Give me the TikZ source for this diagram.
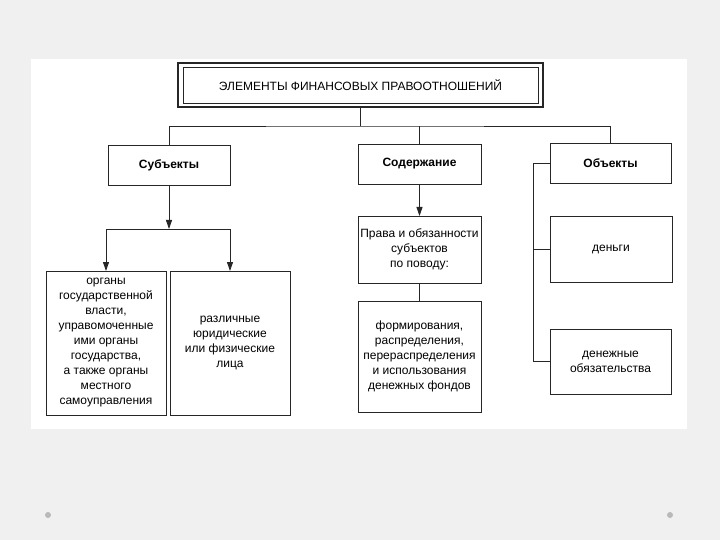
\documentclass[tikz,border=0pt]{standalone}
\usepackage{fontspec}
\setmainfont{Liberation Sans}
\usepackage{tikz}
\usetikzlibrary{arrows,arrows.meta,positioning,fit}

\begin{document}
\begin{tikzpicture}[x=1pt, y=-1pt, >={Triangle[length=9pt,width=6pt]},
    every fit/.style={inner sep=0pt, outer sep=0pt, draw=black!85, line width=0.9pt},
    every label/.style={align=center, font=\fontsize{12}{15}\selectfont},
    head/.style={label={[font=\fontsize{12}{15}\selectfont\bfseries]center:{#1}}},
    link/.style={draw=black!85, line width=0.9pt}]
  % slide
  \useasboundingbox (0,0) rectangle (720,540);
  \fill[gray!12] (0,0) rectangle (720,540);
  \fill[white] (31,59) rectangle (687,429);
  \fill[gray!55] (48,515) circle (3) (670,515) circle (3);
  \begin{scope}
    % title
    \node (title) [fit={(178,63) (543,107)}, line width=2.2pt] {};
    \node (titlein) [fit={(183,67) (538,103)}, line width=0.7pt,
      label={[font=\fontsize{12}{15}\selectfont]center:{ЭЛЕМЕНТЫ ФИНАНСОВЫХ ПРАВООТНОШЕНИЙ}}] {};
    % second level
    \node (subj) [fit={(108,145) (230,185)}, head={Субъекты}] {};
    \node (cont) [fit={(358,144) (481,184)}, head={Содержание}] {};
    \node (obj)  [fit={(550,143) (671,183)}, head={Объекты}] {};
    % subjects
    \node (organs) [fit={(46,271) (166,415)}, label=center:{органы\\государственной\\власти,\\управомоченные\\ими органы\\государства,\\а также органы\\местного\\самоуправления}] {};
    \node (persons) [fit={(170,271) (290,415)}, label=center:{различные\\юридические\\или физические\\лица}] {};
    % content
    \node (rights) [fit={(358,216) (481,283)}, label=center:{Права и обязанности\\субъектов\\по поводу:}] {};
    \node (funds) [fit={(358,301) (481,412)}, label=center:{формирования,\\распределения,\\перераспределения\\и использования\\денежных фондов}] {};
    % objects
    \node (money) [fit={(550,216) (672,282)}, label=center:{деньги}] {};
    \node (oblig) [fit={(550,329) (671,394)}, label=center:{денежные\\обязательства}] {};
  \end{scope}
  % connectors
  \coordinate (bus) at (360.5,126);
  \coordinate (fork) at (169,229);
  \coordinate (spine) at (533,0);
  \draw[link] (title.south) -- (bus);
  \draw[link] (subj.north) |- (bus) -| (obj.north);
  \draw[link] (cont.north) -- (cont.north |- bus);
  \draw[link,->] (subj.south) -- (fork);
  \draw[link,->] (fork) -| (organs.north);
  \draw[link,->] (fork) -| (persons.north);
  \draw[link,->] (cont.south) -- (rights.north);
  \draw[link] (rights.south) -- (funds.north);
  \draw[link] (obj.west) -- (obj.west -| spine) |- (oblig.west);
  \draw[link] (money.west) -- (money.west -| spine);
\end{tikzpicture}
\end{document}
